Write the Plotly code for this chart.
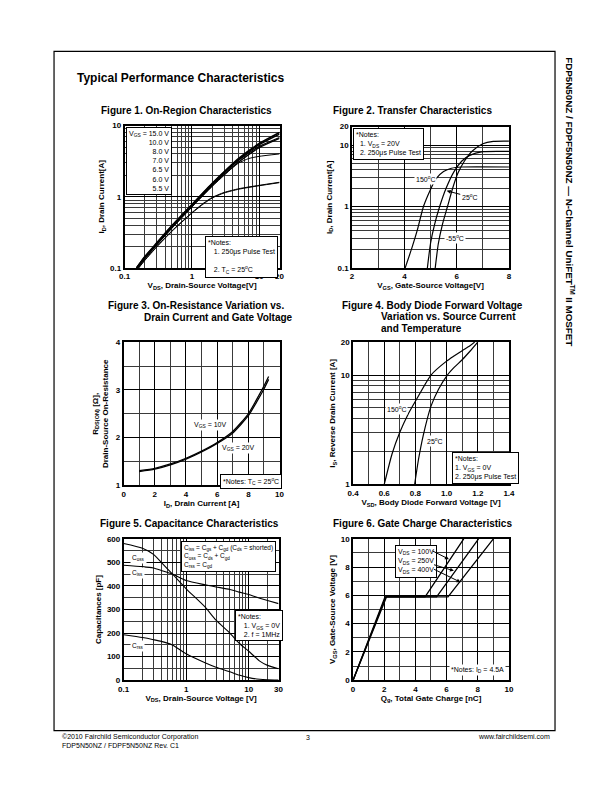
import math
import plotly.graph_objects as go

W, H = 612, 792
FONT = "Liberation Sans"

# ---------------- data ----------------
# Figure 1: On-region (log-log)
f1_vds_15 = [0.15, 0.2, 0.3, 0.5, 1, 2, 3, 5, 10, 20]
f1_id_15 = [0.1, 0.145, 0.225, 0.39, 0.78, 1.55, 2.25, 3.5, 5.6, 8.0]
f1_vds_10 = [0.15, 0.2, 0.3, 0.5, 1, 2, 3, 5, 10, 20]
f1_id_10 = [0.1, 0.143, 0.222, 0.385, 0.77, 1.52, 2.2, 3.4, 5.4, 7.6]
f1_vds_8 = [0.152, 0.2, 0.3, 0.5, 1, 2, 3, 5, 10, 20]
f1_id_8 = [0.1, 0.14, 0.218, 0.375, 0.75, 1.48, 2.15, 3.3, 5.1, 6.8]
f1_vds_7 = [0.155, 0.2, 0.3, 0.5, 1, 2, 3, 5, 10, 20]
f1_id_7 = [0.1, 0.137, 0.213, 0.365, 0.73, 1.44, 2.05, 3.1, 4.9, 6.6]
f1_vds_65 = [0.155, 0.2, 0.3, 0.5, 1, 2, 3, 4, 5, 7, 10, 20]
f1_id_65 = [0.1, 0.135, 0.21, 0.36, 0.72, 1.4, 2.0, 2.55, 3.0, 3.45, 3.7, 4.0]
f1_vds_6 = [0.16, 0.2, 0.3, 0.5, 1, 1.5, 2, 3, 5, 10, 20]
f1_id_6 = [0.1, 0.13, 0.2, 0.33, 0.6, 0.82, 0.98, 1.15, 1.3, 1.45, 1.6]
f1_vds_55 = [0.162, 0.2, 0.3, 0.5, 1, 1.5, 2, 3, 5, 10, 20]
f1_id_55 = [0.1, 0.128, 0.197, 0.325, 0.59, 0.8, 0.96, 1.13, 1.28, 1.43, 1.58]

# Figure 2: Transfer characteristics
f2_vgs_150 = [4.03, 4.3, 4.5, 4.73, 5.0, 5.2, 5.5, 5.8, 6.2, 8.0]
f2_id_150 = [0.1, 0.22, 0.42, 1.0, 1.9, 2.8, 3.7, 4.2, 4.4, 4.4]
f2_vgs_25 = [4.88, 5.0, 5.15, 5.35, 5.6, 5.9, 6.2, 6.5, 7.0, 8.0]
f2_id_25 = [0.1, 0.25, 0.5, 1.0, 2.0, 3.7, 5.5, 6.8, 7.8, 7.9]
f2_vgs_m55 = [5.18, 5.3, 5.45, 5.65, 5.85, 6.05, 6.3, 6.6, 7.0, 7.4, 8.0]
f2_id_m55 = [0.1, 0.25, 0.5, 1.0, 2.0, 3.5, 5.5, 8.0, 10.5, 11.5, 11.6]

# Figure 3: On-resistance
f3_id = [1, 2, 3, 4, 5, 6, 7, 8, 8.5, 9, 9.3]
f3_r_10 = [1.31, 1.36, 1.45, 1.57, 1.72, 1.9, 2.13, 2.5, 2.78, 3.08, 3.28]
f3_r_20 = [1.29, 1.34, 1.43, 1.55, 1.7, 1.88, 2.1, 2.46, 2.73, 3.02, 3.22]

# Figure 4: Body diode
f4_vsd_150 = [0.6, 0.65, 0.7, 0.75, 0.81, 0.9, 1.0, 1.05, 1.1, 1.15, 1.18]
f4_is_150 = [1.0, 1.9, 3.0, 4.3, 6.1, 10.0, 13.4, 15.0, 16.7, 18.5, 20.0]
f4_vsd_25 = [0.795, 0.82, 0.85, 0.9, 0.95, 1.005, 1.05, 1.1, 1.15, 1.2]
f4_is_25 = [1.0, 1.7, 2.8, 5.2, 7.5, 10.0, 11.8, 13.8, 16.5, 20.0]

# Figure 5: Capacitance
f5_vds = [0.1, 0.2, 0.3, 0.4, 0.6, 1, 2, 3, 5, 7, 10, 15, 20, 30]
f5_ciss = [488, 482, 476, 466, 451, 423, 405, 396, 385, 374, 364, 348, 338, 325]
f5_coss = [580, 560, 534, 500, 451, 388, 311, 255, 200, 158, 123, 81, 63, 49]
f5_crss = [193, 181, 172, 165, 150, 112, 74, 55, 36, 22, 11, 4, 2, 1]

# Figure 6: Gate charge
f6_qg_100 = [0, 2.05, 4.62, 7.1]
f6_vgs_100 = [0, 5.9, 5.9, 10]
f6_qg_250 = [0, 2.1, 5.36, 8.05]
f6_vgs_250 = [0, 5.9, 5.9, 10]
f6_qg_400 = [0, 2.15, 6.09, 9.0]
f6_vgs_400 = [0, 5.9, 5.9, 10]

# ---------------- helpers ----------------
def px_x(px):
    return px / W

def px_y(py):
    return 1 - py / H

def log_minors(lo_exp, hi_val):
    vals = []
    e = lo_exp
    while 10 ** e < hi_val:
        for d in range(2, 10):
            v = d * 10 ** e
            if v < hi_val:
                vals.append(v)
        e += 1
    return vals

tickfont = dict(family=FONT, size=8, color="black", weight="bold")
titlefont = dict(family=FONT, size=8, color="black", weight="bold")

def make_axis(dom_px, vertical, typ, rng, tickvals, ticktext, minor_vals, title, standoff, anchor):
    if vertical:
        dom = [px_y(dom_px[1]), px_y(dom_px[0])]
    else:
        dom = [px_x(dom_px[0]), px_x(dom_px[1])]
    return dict(
        domain=dom, type=typ, range=rng, anchor=anchor,
        tickmode="array", tickvals=tickvals, ticktext=ticktext,
        showgrid=True, gridcolor="black", gridwidth=1.4,
        showline=True, linecolor="black", linewidth=1.6, mirror=True,
        ticks="", tickfont=tickfont, zeroline=False, fixedrange=True,
        minor=dict(tickmode="array", tickvals=minor_vals, showgrid=True,
                   gridcolor="#3a3a3a", gridwidth=0.6, ticks=""),
        title=dict(text=title, font=titlefont, standoff=standoff),
    )

fig = go.Figure()

def add_line(x, y, xa, ya, width=1.2, shape="spline"):
    fig.add_trace(go.Scatter(x=x, y=y, xaxis=xa, yaxis=ya, mode="lines",
                             line=dict(color="black", width=width, shape=shape, smoothing=0.6),
                             showlegend=False, hoverinfo="skip"))

# Figure 1
for xs, ys, w in [(f1_vds_55, f1_id_55, 1.0), (f1_vds_6, f1_id_6, 1.0), (f1_vds_65, f1_id_65, 1.0),
                  (f1_vds_7, f1_id_7, 1.3), (f1_vds_8, f1_id_8, 1.3), (f1_vds_10, f1_id_10, 1.5),
                  (f1_vds_15, f1_id_15, 1.6)]:
    add_line(xs, ys, "x", "y", w)
# Figure 2
for xs, ys in [(f2_vgs_150, f2_id_150), (f2_vgs_25, f2_id_25), (f2_vgs_m55, f2_id_m55)]:
    add_line(xs, ys, "x2", "y2", 1.2)
# Figure 3
add_line(f3_id, f3_r_10, "x3", "y3", 1.3)
add_line(f3_id, f3_r_20, "x3", "y3", 1.3)
# Figure 4
add_line(f4_vsd_150, f4_is_150, "x4", "y4", 1.2)
add_line(f4_vsd_25, f4_is_25, "x4", "y4", 1.2)
# Figure 5
add_line(f5_vds, f5_ciss, "x5", "y5", 1.1)
add_line(f5_vds, f5_coss, "x5", "y5", 1.1)
add_line(f5_vds, f5_crss, "x5", "y5", 1.1)
# Figure 6
add_line(f6_qg_100, f6_vgs_100, "x6", "y6", 1.3, "linear")
add_line(f6_qg_250, f6_vgs_250, "x6", "y6", 1.3, "linear")
add_line(f6_qg_400, f6_vgs_400, "x6", "y6", 1.3, "linear")

layout = dict(
    width=W, height=H, margin=dict(l=0, r=0, t=0, b=0),
    paper_bgcolor="white", plot_bgcolor="white", showlegend=False,
    font=dict(family=FONT, color="black"),
)

# Fig1 axes
layout["xaxis"] = make_axis([121, 279], False, "log", [-1, math.log10(20)], [0.1, 1, 10, 20],
                            ["0.1", "1", "10", "20"], log_minors(-1, 20),
                            "V<sub>DS</sub>, Drain-Source Voltage[V]", 2, "y")
layout["yaxis"] = make_axis([123, 267], True, "log", [-1, 1], [0.1, 1, 10],
                            ["0.1", "1", "10"], log_minors(-1, 10),
                            "I<sub>D</sub>, Drain Current[A]", 4, "x")
# Fig2 axes
layout["xaxis2"] = make_axis([353, 513], False, "linear", [2, 8], [2, 4, 6, 8],
                             ["2", "4", "6", "8"], [3, 5, 7],
                             "V<sub>GS</sub>, Gate-Source Voltage[V]", 2, "y2")
layout["yaxis2"] = make_axis([124, 267], True, "log", [-1, math.log10(20)], [0.1, 1, 10, 20],
                             ["0.1", "1", "10", "20"], log_minors(-1, 20),
                             "I<sub>D</sub>, Drain Current[A]", 4, "x2")
# Fig3 axes
layout["xaxis3"] = make_axis([120, 279], False, "linear", [0, 10], [0, 2, 4, 6, 8, 10],
                             ["0", "2", "4", "6", "8", "10"], [1, 3, 5, 7, 9],
                             "I<sub>D</sub>, Drain Current [A]", 2, "y3")
layout["yaxis3"] = make_axis([342, 487], True, "linear", [1, 4], [1, 2, 3, 4],
                             ["1", "2", "3", "4"], [1.5, 2.5, 3.5],
                             "R<sub>DS(ON)</sub> [<b>Ω</b>],<br>Drain-Source On-Resistance", 6, "x3")
# Fig4 axes
layout["xaxis4"] = make_axis([354, 513], False, "linear", [0.4, 1.4], [0.4, 0.6, 0.8, 1.0, 1.2, 1.4],
                             ["0.4", "0.6", "0.8", "1.0", "1.2", "1.4"], [0.5, 0.7, 0.9, 1.1, 1.3],
                             "V<sub>SD</sub>, Body Diode Forward Voltage [V]", 2, "y4")
layout["yaxis4"] = make_axis([342, 486], True, "log", [0, math.log10(20)], [1, 10, 20],
                             ["1", "10", "20"], log_minors(0, 20),
                             "I<sub>S</sub>, Reverse Drain Current [A]", 4, "x4")
# Fig5 axes
layout["xaxis5"] = make_axis([120, 278], False, "log", [-1, math.log10(30)], [0.1, 1, 10, 30],
                             ["0.1", "1", "10", "30"], log_minors(-1, 30),
                             "V<sub>DS</sub>, Drain-Source Voltage [V]", 2, "y5")
layout["yaxis5"] = make_axis([541, 684], True, "linear", [0, 600], [0, 100, 200, 300, 400, 500, 600],
                             ["0", "100", "200", "300", "400", "500", "600"], [50, 150, 250, 350, 450, 550],
                             "Capacitances [pF]", 4, "x5")
# Fig6 axes
layout["xaxis6"] = make_axis([354, 513], False, "linear", [0, 10], [0, 2, 4, 6, 8, 10],
                             ["0", "2", "4", "6", "8", "10"], [1, 3, 5, 7, 9],
                             "Q<sub>g</sub>, Total Gate Charge [nC]", 2, "y6")
layout["yaxis6"] = make_axis([541, 684], True, "linear", [0, 10], [0, 2, 4, 6, 8, 10],
                             ["0", "2", "4", "6", "8", "10"], [1, 3, 5, 7, 9],
                             "V<sub>GS</sub>, Gate-Source Voltage [V]", 4, "x6")

fig.update_layout(**layout)

anns = []

def ptext(text, x, y, size=10, xanchor="left", yanchor="middle", bold=True, **kw):
    anns.append(dict(text=text, xref="paper", yref="paper", x=px_x(x), y=px_y(y),
                     xanchor=xanchor, yanchor=yanchor, showarrow=False,
                     font=dict(family=FONT, size=size, color="black", weight="bold" if bold else "normal"), **kw))

def pbox(text, x, y, size=7, align="left"):
    anns.append(dict(text=text, xref="paper", yref="paper", x=px_x(x), y=px_y(y),
                     xanchor="left", yanchor="top", showarrow=False, align=align,
                     bgcolor="white", bordercolor="black", borderwidth=1, borderpad=2,
                     font=dict(family=FONT, size=size, color="black")))

def dtext(text, x, y, xa, ya, size=7, bg="white", **kw):
    d = dict(text=text, xref=xa, yref=ya, x=x, y=y, showarrow=False,
             font=dict(family=FONT, size=size, color="black"))
    if bg:
        d["bgcolor"] = bg
    d.update(kw)
    anns.append(d)

# page title & figure titles
ptext("Typical Performance Characteristics", 70, 75, size=12)
ptext("Figure 1. On-Region Characteristics", 184, 108, size=10, xanchor="center")
ptext("Figure 2. Transfer Characteristics", 415, 108, size=10, xanchor="center")
ptext("Figure 3. On-Resistance Variation vs.", 102, 305, size=10)
ptext("Drain Current and Gate Voltage", 139, 317, size=10)
ptext("Figure 4. Body Diode Forward Voltage", 341, 305, size=10)
ptext("Variation vs. Source Current", 380, 316, size=10)
ptext("and Temperature", 380, 328, size=10)
ptext("Figure 5. Capacitance Characteristics", 187, 525, size=10, xanchor="center")
ptext("Figure 6. Gate Charge Characteristics", 425, 525, size=10, xanchor="center")

# footer
ptext("©2010 Fairchild Semiconductor Corporation", 55, 741, size=7, bold=False)
ptext("FDP5N50NZ / FDPF5N50NZ Rev. C1", 55, 750, size=7, bold=False)
ptext("3", 308, 742, size=7, xanchor="center", bold=False)
ptext("www.fairchildsemi.com", 557, 741, size=7, xanchor="right", bold=False)

# side text
anns.append(dict(text="FDP5N50NZ / FDPF5N50NZ — N-Channel UniFET<sup>TM</sup> II MOSFET",
                 xref="paper", yref="paper", x=px_x(575), y=px_y(52), xanchor="center", yanchor="top",
                 textangle=90, showarrow=False,
                 font=dict(family=FONT, size=9.8, color="black", weight="bold")))

# Fig1 boxes
pbox("V<sub>GS</sub> = 15.0 V<br>10.0 V<br>8.0 V<br>7.0 V<br>6.5 V<br>6.0 V<br>5.5 V", 122, 124, size=7, align="right")
pbox("*Notes:<br>   1. 250μs Pulse Test<br><br>   2. T<sub>C</sub> = 25<sup>o</sup>C", 203, 235, size=7)
# Fig2
pbox("*Notes:<br>  1. V<sub>DS</sub> = 20V<br>  2. 250μs Pulse Test", 354, 125, size=7)
dtext("150<sup>o</sup>C", 4.8, math.log10(2.85), "x2", "y2")
# 25C label placed at (ax, ay) with an arrow pointing to the curve at (x, y)
anns.append(dict(text="25<sup>o</sup>C", xref="x2", yref="y2", x=5.62, y=math.log10(1.8),
                 ax=6.5, ay=math.log10(1.44), axref="x2", ayref="y2", showarrow=True,
                 arrowhead=2, arrowsize=0.8, arrowwidth=1, arrowcolor="black",
                 font=dict(family=FONT, size=7, color="black")))
dtext("-55<sup>o</sup>C", 5.95, math.log10(0.305), "x2", "y2")
# Fig3
dtext("V<sub>GS</sub> = 10V", 5.6, 2.26, "x3", "y3")
dtext("V<sub>GS</sub> = 20V", 7.4, 1.78, "x3", "y3")
pbox("*Notes: T<sub>C</sub> = 25<sup>o</sup>C", 218, 475, size=7)
# Fig4
dtext("150<sup>o</sup>C", 0.68, math.log10(4.9), "x4", "y4")
dtext("25<sup>o</sup>C", 0.925, math.log10(2.5), "x4", "y4")
pbox("*Notes:<br>1. V<sub>GS</sub> = 0V<br>2. 250μs Pulse Test", 455, 453, size=7)
# Fig5
dtext("C<sub>oss</sub>", math.log10(0.172), 520, "x5", "y5", size=6.5)
dtext("C<sub>iss</sub>", math.log10(0.165), 455, "x5", "y5", size=6.5)
dtext("C<sub>rss</sub>", math.log10(0.165), 147, "x5", "y5", size=6.5)
pbox("C<sub>iss</sub> = C<sub>gs</sub> + C<sub>gd</sub> (C<sub>ds</sub> = shorted)<br>"
     "C<sub>oss</sub> = C<sub>ds</sub> + C<sub>gd</sub><br>C<sub>rss</sub> = C<sub>gd</sub>", 178, 543, size=6.5)
pbox("*Notes:<br>   1. V<sub>GS</sub> = 0V<br>   2. f = 1MHz", 234, 613, size=7)
# Fig6
pbox("V<sub>DS</sub> = 100V<br>V<sub>DS</sub> = 250V<br>V<sub>DS</sub> = 400V", 397, 547, size=7)
for (ax_, ay_, x_, y_) in [(5.0, 9.2, 6.15, 8.56), (5.1, 8.2, 6.47, 7.74), (5.1, 7.9, 6.9, 6.93)]:
    anns.append(dict(text="", xref="x6", yref="y6", x=x_, y=y_, ax=ax_, ay=ay_, axref="x6", ayref="y6",
                     showarrow=True, arrowhead=2, arrowsize=0.8, arrowwidth=1, arrowcolor="black"))
dtext("*Notes: I<sub>D</sub> = 4.5A", 8.0, 0.75, "x6", "y6")

fig.update_layout(annotations=anns)

# page frame
fig.add_shape(type="rect", xref="paper", yref="paper", x0=px_x(49), x1=px_x(560), y0=px_y(735), y1=px_y(48),
              line=dict(color="black", width=1.2), layer="below")

fig.write_html(
    "out.html",
    config={"displayModeBar": False, "responsive": False},
    post_script=("document.documentElement.style.margin='0';document.documentElement.style.overflow='hidden';"
                 "document.body.style.margin='0';document.body.style.padding='0';document.body.style.overflow='hidden';"),
)
